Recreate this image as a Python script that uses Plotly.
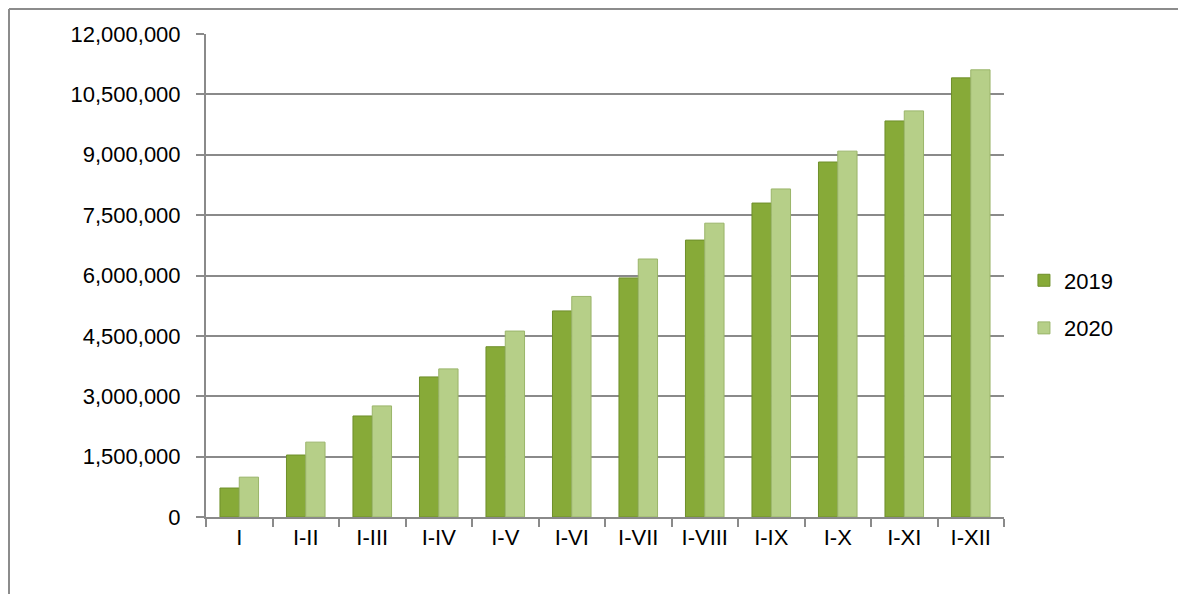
import plotly.graph_objects as go

categories = ["I", "I-II", "I-III", "I-IV", "I-V", "I-VI", "I-VII", "I-VIII", "I-IX", "I-X", "I-XI", "I-XII"]
values_2019 = [720000, 1540000, 2510000, 3480000, 4230000, 5120000, 5940000, 6880000, 7800000, 8820000, 9840000, 10910000]
values_2020 = [990000, 1860000, 2760000, 3680000, 4620000, 5480000, 6410000, 7300000, 8150000, 9090000, 10090000, 11110000]
y_ticks = [0, 1500000, 3000000, 4500000, 6000000, 7500000, 9000000, 10500000, 12000000]

FONT = "Liberation Sans"
GRID = "#8a8a8a"
BORDER = "#8c8c8c"

W, H = 1170, 586
L, R, T, B = 198, 174, 26, 77
pw, ph = W - L - R, H - T - B

def px_x(v):
    return (v - L) / pw

def px_y(v):
    return (H - B - v) / ph

fig = go.Figure()
fig.add_trace(go.Bar(
    x=categories, y=values_2019, name="2019", legendgroup="a",
    marker=dict(color="#87aa38", line=dict(color="#6f8f2a", width=1)),
))
fig.add_trace(go.Bar(
    x=categories, y=values_2020, name="2020", legendgroup="b",
    marker=dict(color="#b6cf88", line=dict(color="#9ab56a", width=1)),
))

fig.update_layout(
    width=W, height=H,
    margin=dict(l=L, r=R, t=T, b=B),
    paper_bgcolor="white", plot_bgcolor="white",
    barmode="group", bargap=0.42, bargroupgap=0,
    font=dict(family=FONT, size=22, color="black"),
    legend=dict(x=1.025, xanchor="left", y=0.44, yanchor="middle",
                font=dict(family=FONT, size=22), tracegroupgap=16,
                bgcolor="rgba(0,0,0,0)"),
    xaxis=dict(type="category", showline=True, linecolor=GRID, linewidth=2,
               ticks="outside", tickson="boundaries", ticklen=8, tickcolor=GRID,
               tickwidth=1.5, showgrid=False, tickfont=dict(family=FONT, size=22)),
    yaxis=dict(range=[0, 12000000], tickvals=y_ticks, tickformat=",d",
               showline=True, linecolor=GRID, linewidth=2,
               ticks="outside", ticklen=8, tickcolor=GRID, tickwidth=1.5,
               showgrid=True, gridcolor=GRID, gridwidth=2,
               zeroline=False, ticklabelstandoff=11,
               tickfont=dict(family=FONT, size=22)),
    shapes=[
        dict(type="line", xref="paper", yref="paper",
             x0=px_x(1), x1=px_x(W + 20), y0=px_y(1), y1=px_y(1),
             line=dict(color=BORDER, width=2), layer="below"),
        dict(type="line", xref="paper", yref="paper",
             x0=px_x(1), x1=px_x(1), y0=px_y(1), y1=px_y(H + 20),
             line=dict(color=BORDER, width=2), layer="below"),
    ],
)

fig.write_html("out.html")
